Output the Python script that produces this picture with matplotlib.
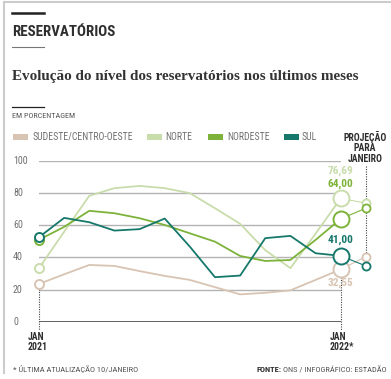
import matplotlib
matplotlib.use("Agg")
import matplotlib.pyplot as plt
from matplotlib.patches import Rectangle
from matplotlib.lines import Line2D
from matplotlib.transforms import blended_transform_factory

# data, monthly jan/2021 .. jan/2022
months = list(range(13))
sudeste = [23.5, 29.5, 35.3, 34.7, 31.5, 28.5, 26.0, 21.5, 17.0, 18.0, 19.5, 26.0, 32.55]
norte = [33.3, 56.0, 78.3, 83.1, 84.5, 83.1, 80.0, 70.6, 60.9, 44.5, 33.3, 54.8, 76.69]
nordeste = [51.0, 59.0, 69.0, 67.5, 64.4, 60.2, 55.0, 49.8, 40.9, 37.8, 38.4, 50.9, 64.00]
sul = [52.6, 64.6, 61.9, 56.7, 57.6, 64.2, 46.7, 27.7, 28.7, 52.0, 53.4, 42.6, 41.00]
proj_x = 13
proj = {"sudeste": 40.5, "norte": 73.8, "nordeste": 70.6, "sul": 34.7}
last_labels = ["32,55", "76,69", "64,00", "41,00"]
yticks = [0, 20, 40, 60, 80, 100]

c_sud = "#d8c4b2"
c_nor = "#c9dcab"
c_nde = "#7db33a"
c_sul = "#16786b"
gray_txt = "#707070"
dark_txt = "#2e2e2e"

cond = ["Roboto Condensed", "DejaVu Sans"]
serif = ["Liberation Serif", "DejaVu Serif"]

W, H = 391, 379
fig = plt.figure(figsize=(W / 100, H / 100), dpi=100)
fig.patch.set_facecolor("white")


def fx(x):
    return x / W


def fy(y):
    return 1 - y / H


# plot area: jan21 at px 39, jan22 at px 340.7; 0 at px 321.7, 100 at px 161
ax = fig.add_axes([fx(39), fy(321.7), (340.7 - 39) / W, (321.7 - 161) / H])
ax.set_xlim(0, 12)
ax.set_ylim(0, 100)
for s in ax.spines.values():
    s.set_visible(False)
ax.set_xticks([])
ax.set_yticks([])
for v in yticks[1:]:
    ax.axhline(v, color="#b3b3b3", lw=1.0, zorder=1)
ax.axhline(0, color="#555555", lw=1.3, zorder=1)

tr = blended_transform_factory(fig.transFigure, ax.transData)
for v in yticks:
    ax.text(fx(13), v, str(v), transform=tr, ha="left", va="center",
            fontsize=7.2, color=gray_txt, family=cond)

# dotted guides
dot = dict(ls=(0, (1, 1.2)), color="#444444", lw=0.8, clip_on=False, zorder=2)
ax.plot([0, 0], [sudeste[0] - 3, -5], **dot)
ax.plot([12, 12], [sudeste[-1] - 5, -5], **dot)
ax.plot([proj_x, proj_x], [97, proj["sudeste"] + 2], **dot)

series = [(sudeste, c_sud, "sudeste"), (norte, c_nor, "norte"),
          (nordeste, c_nde, "nordeste"), (sul, c_sul, "sul")]
for i, (vals, col, key) in enumerate(series):
    z = 3 + i
    ax.plot(months, vals, color=col, lw=1.3, zorder=z, clip_on=False)
    ax.plot([12, proj_x], [vals[-1], proj[key]], color=col, lw=0.8, zorder=z, clip_on=False)
    ax.plot([0], [vals[0]], marker="o", ms=6.5, mfc="white", mec=col, mew=1.4, zorder=z + 0.5, clip_on=False)
    ax.plot([12], [vals[-1]], marker="o", ms=11.5, mfc="white", mec=col, mew=1.4, zorder=z + 0.5, clip_on=False)
    ax.plot([proj_x], [proj[key]], marker="o", ms=5.8, mfc="white", mec=col, mew=1.3, zorder=z + 0.5, clip_on=False)

# value labels at jan/2022
lab_pos = [(c_sud, 24.1, last_labels[0]), (c_nor, 93.8, last_labels[1]),
           (c_nde, 86.0, last_labels[2]), (c_sul, 50.9, last_labels[3])]
for col, yv, txt in lab_pos:
    ax.text(12, yv, txt, ha="center", va="center", fontsize=8.2, fontweight="bold",
            color=col, family=cond, clip_on=False, zorder=10)

# frame
fig.add_artist(Line2D([fx(4), fx(4)], [fy(2), fy(373)], color="#cccccc", lw=1.5))
fig.add_artist(Line2D([fx(4), 1], [fy(2), fy(2)], color="#cccccc", lw=1.5))

# header
fig.add_artist(Line2D([fx(12), fx(43.5)], [fy(13.3), fy(13.3)], color="#222222", lw=1.8))
fig.text(fx(12), fy(31.5), "RESERVATÓRIOS", ha="left", va="center", fontsize=10.8,
         fontweight="bold", color=dark_txt, family=cond)
fig.add_artist(Line2D([fx(12), fx(43.5)], [fy(47.3), fy(47.3)], color="#777777", lw=0.8))
fig.text(fx(12), fy(76.5), "Evolução do nível dos reservatórios nos últimos meses", ha="left",
         va="center", fontsize=10.9, fontweight="bold", color="#333333", family=serif)
fig.add_artist(Line2D([fx(12), fx(43.5)], [fy(107.3), fy(107.3)], color="#222222", lw=0.9))
fig.text(fx(12.5), fy(116.5), "EM PORCENTAGEM", ha="left", va="center", fontsize=5.9,
         color="#555555", family=cond)

# legend
leg = [("SUDESTE/CENTRO-OESTE", c_sud, 12.7, 32.3), ("NORTE", c_nor, 146.7, 165.7),
       ("NORDESTE", c_nde, 208, 227.3), ("SUL", c_sul, 284, 302)]
for txt, col, px0, tx in leg:
    fig.add_artist(Rectangle((fx(px0), fy(139.5)), 15 / W, 5.5 / H, transform=fig.transFigure,
                             facecolor=col, edgecolor="none"))
    fig.text(fx(tx), fy(137), txt, ha="left", va="center", fontsize=7, color=gray_txt, family=cond)

for txt, yy in [("PROJEÇÃO", 137.3), ("PARA", 148.5), ("JANEIRO", 159)]:
    fig.text(fx(365), fy(yy), txt, ha="center", va="center", fontsize=7, fontweight="bold",
             color=dark_txt, family=cond)

# x labels
for xp, l1, l2 in [(28, "JAN", "2021"), (330, "JAN", "2022*")]:
    fig.text(fx(xp), fy(336.5), l1, ha="left", va="center", fontsize=7, fontweight="bold",
             color=dark_txt, family=cond)
    fig.text(fx(xp), fy(347.5), l2, ha="left", va="center", fontsize=7, fontweight="bold",
             color=dark_txt, family=cond)

# footer
fig.text(fx(13), fy(369), "* ÚLTIMA ATUALIZAÇÃO 10/JANEIRO", ha="left", va="center", fontsize=6,
         color="#555555", family=cond)
src = fig.text(fx(387), fy(370), "ONS / INFOGRÁFICO: ESTADÃO", ha="right", va="center", fontsize=6,
               color="#555555", family=cond)
renderer = fig.canvas.get_renderer()
bb = src.get_window_extent(renderer)
fig.text(fx(bb.x0 - 2), fy(370), "FONTE:", ha="right", va="center", fontsize=6, fontweight="bold",
         color=dark_txt, family=cond)

fig.savefig("out.png", dpi=100)
